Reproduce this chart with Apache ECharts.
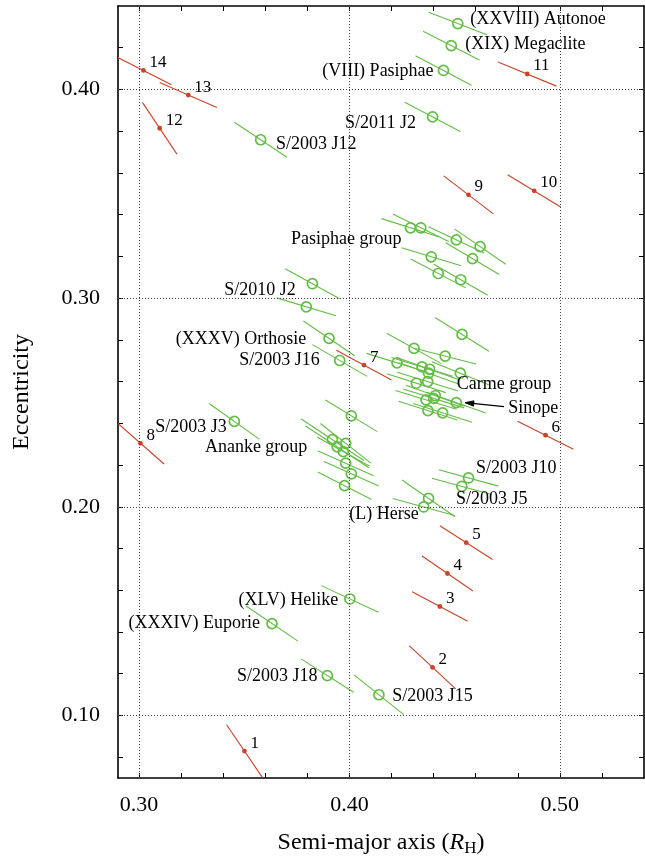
<!DOCTYPE html>
<html>
<head>
<meta charset="utf-8">
<script src="https://cdn.jsdelivr.net/npm/echarts@6/dist/echarts.min.js"></script>
<style>
  html, body { margin: 0; padding: 0; background: #fff; }
  #chart { width: 645px; height: 862px; }
</style>
</head>
<body>
<div id="chart"></div>
<script>
// Irregular Jovian satellites: semi-major axis vs eccentricity.
// Each object is drawn as its mean position with a segment showing its
// range of variation (half-extents in a and e).

// Numbered test orbits (red)
const redNames = ['1', '2', '3', '4', '5', '6', '7', '8', '9', '10', '11', '12', '13', '14'];
const redA  = [0.3501, 0.4395, 0.4430, 0.4466, 0.4555, 0.4932, 0.4069, 0.3007, 0.4566, 0.4878, 0.4845, 0.3098, 0.3234, 0.3021];
const redE  = [0.0829, 0.1230, 0.1522, 0.1680, 0.1828, 0.2343, 0.2679, 0.2304, 0.3495, 0.3514, 0.4074, 0.3814, 0.3973, 0.4091];
const redDA = [0.0085, 0.0110, 0.0132, 0.0121, 0.0125, 0.0133, 0.0131, 0.0112, 0.0118, 0.0126, 0.0139, 0.0082, 0.0136, 0.0133];
const redDE = [0.0126, 0.0103, 0.0071, 0.0084, 0.0081, 0.0067, 0.0071, 0.0099, 0.0091, 0.0077, 0.0058, 0.0124, 0.0060, 0.0068];

// Known retrograde satellites (green)
const greenA = [
  // named / isolated
  0.4515, 0.4484, 0.4447, 0.4395, 0.3578, 0.3824, 0.3795, 0.3903, 0.3954, 0.3453,
  0.4566, 0.4534, 0.4376, 0.4353, 0.4002, 0.3632, 0.3895, 0.4140, 0.4009,
  // Pasiphae group
  0.4290, 0.4339, 0.4508, 0.4621, 0.4389, 0.4585, 0.4422, 0.4529,
  // Carme group
  0.4307, 0.4455, 0.4535, 0.4226, 0.4345, 0.4381, 0.4376, 0.4527, 0.4318, 0.4372,
  0.4408, 0.4400, 0.4364, 0.4508, 0.4373, 0.4443,
  // Ananke group
  0.3919, 0.3942, 0.3982, 0.3971, 0.3982, 0.4009, 0.3977
];
const greenE = [
  0.4316, 0.4210, 0.4091, 0.3869, 0.3759, 0.3069, 0.2958, 0.2807, 0.2701, 0.2409,
  0.2138, 0.2098, 0.2040, 0.1999, 0.1558, 0.1440, 0.1191, 0.1099, 0.2436,
  0.3337, 0.3337, 0.3279, 0.3247, 0.3198, 0.3189, 0.3118, 0.3088,
  0.2759, 0.2722, 0.2826, 0.2690, 0.2670, 0.2659, 0.2640, 0.2640, 0.2592, 0.2600,
  0.2532, 0.2519, 0.2512, 0.2499, 0.2461, 0.2450,
  0.2322, 0.2287, 0.2304, 0.2264, 0.2209, 0.2158, 0.2101
];
const greenDA = [
  0.0138, 0.0134, 0.0133, 0.0132, 0.0125, 0.0129, 0.0141, 0.0122, 0.0130, 0.0120,
  0.0142, 0.0142, 0.0126, 0.0147, 0.0136, 0.0123, 0.0125, 0.0118, 0.0123,
  0.0137, 0.0133, 0.0132, 0.0122, 0.0142, 0.0127, 0.0131, 0.0128,
  0.0130, 0.0147, 0.0128, 0.0145, 0.0145, 0.0140, 0.0140, 0.0135, 0.0140, 0.0145,
  0.0140, 0.0145, 0.0145, 0.0140, 0.0140, 0.0140,
  0.0150, 0.0150, 0.0120, 0.0125, 0.0133, 0.0130, 0.0128
];
const greenDE = [
  0.0054, 0.0069, 0.0071, 0.0070, 0.0084, 0.0072, 0.0043, 0.0083, 0.0076, 0.0086,
  0.0039, 0.0039, 0.0088, 0.0041, 0.0064, 0.0084, 0.0080, 0.0095, 0.0076,
  0.0044, 0.0066, 0.0063, 0.0085, 0.0043, 0.0076, 0.0069, 0.0074,
  0.0073, 0.0038, 0.0081, 0.0045, 0.0045, 0.0050, 0.0050, 0.0055, 0.0045, 0.0045,
  0.0050, 0.0045, 0.0045, 0.0050, 0.0045, 0.0045,
  0.0100, 0.0100, 0.0095, 0.0070, 0.0060, 0.0059, 0.0066
];

// Text annotations, anchored in data units (a, e)
const noteText = [
  '(XXVIII) Autonoe', '(XIX) Megaclite', '(VIII) Pasiphae', 'S/2011 J2', 'S/2003 J12',
  'Pasiphae group', 'S/2010 J2', '(XXXV) Orthosie', 'S/2003 J16', 'Carme group',
  'Sinope', 'S/2003 J3', 'Ananke group', 'S/2003 J10', 'S/2003 J5', '(L) Herse',
  '(XLV) Helike', '(XXXIV) Euporie', 'S/2003 J18', 'S/2003 J15'
];
const noteA = [
  0.4574, 0.4550, 0.4400, 0.4316, 0.3651,
  0.4247, 0.3745, 0.3795, 0.3859, 0.4510,
  0.4755, 0.3417, 0.3800, 0.4602, 0.4506, 0.4329,
  0.3947, 0.3575, 0.3848, 0.4203
];
const noteE = [
  0.4336, 0.4218, 0.4087, 0.3838, 0.3736,
  0.3282, 0.3037, 0.2804, 0.2701, 0.2588,
  0.2474, 0.2382, 0.2283, 0.2185, 0.2038, 0.1964,
  0.1554, 0.1440, 0.1186, 0.1091
];
// Arrow from the "Sinope" label to its marker
const arrowFrom = [0.4735, 0.2480];
const arrowTo = [0.4550, 0.2499];

// Axes
const xMin = 0.29, xMax = 0.54, yMin = 0.07, yMax = 0.44;
const xMajor = [0.30, 0.40, 0.50];
const xMinor = [0.30, 0.32, 0.34, 0.36, 0.38, 0.40, 0.42, 0.44, 0.46, 0.48, 0.50, 0.52];
const yMajor = [0.10, 0.20, 0.30, 0.40];
const yMinor = [0.08, 0.10, 0.12, 0.14, 0.16, 0.18, 0.20, 0.22, 0.24, 0.26, 0.28, 0.30, 0.32, 0.34, 0.36, 0.38, 0.40, 0.42];

const FONT = "'Liberation Serif', 'Times New Roman', serif";
const RED = '#c8432b';
const GREEN = '#63bd45';
const rightAligned = new Set(['(VIII) Pasiphae', 'S/2011 J2', 'Pasiphae group', 'S/2010 J2',
  '(XXXV) Orthosie', 'S/2003 J16', 'S/2003 J3', 'Ananke group', '(L) Herse',
  '(XLV) Helike', '(XXXIV) Euporie', 'S/2003 J18']);

const redData = redA.map((a, i) => [a, redE[i], redDA[i], redDE[i], i]);
const greenData = greenA.map((a, i) => [a, greenE[i], greenDA[i], greenDE[i]]);
const noteData = noteA.map((a, i) => [a, noteE[i], i]);

function segment(api, color) {
  const a = api.value(0), e = api.value(1), da = api.value(2), de = api.value(3);
  const p0 = api.coord([a - da, e + de]);
  const p1 = api.coord([a + da, e - de]);
  return {
    type: 'line',
    shape: { x1: p0[0], y1: p0[1], x2: p1[0], y2: p1[1] },
    style: { stroke: color, lineWidth: 1.1 }
  };
}

function axisCommon(isX, pos, showLabels) {
  return {
    type: 'value',
    position: pos,
    min: isX ? xMin : yMin,
    max: isX ? xMax : yMax,
    axisLine: { show: true, onZero: false, lineStyle: { color: '#000', width: 1.6 } },
    axisTick: {
      show: true, inside: true, length: 5,
      customValues: isX ? xMinor : yMinor,
      lineStyle: { color: '#000', width: 1 }
    },
    axisLabel: {
      show: showLabels,
      customValues: isX ? xMajor : yMajor,
      formatter: v => Number(v).toFixed(2),
      margin: isX ? 16 : 18,
      color: '#000', fontSize: 22, fontFamily: FONT
    },
    splitLine: { show: false },
    minorTick: { show: false }
  };
}

const chart = echarts.init(document.getElementById('chart'), null, { renderer: 'canvas' });

const xBottom = Object.assign(axisCommon(true, 'bottom', true), {
  name: 'Semi-major axis ({i|R}{sub|H})',
  nameLocation: 'middle',
  nameGap: 50,
  nameTextStyle: {
    color: '#000', fontSize: 24, fontFamily: FONT,
    rich: {
      i: { fontStyle: 'italic', fontSize: 24, fontFamily: FONT, color: '#000' },
      sub: { fontSize: 17, fontFamily: FONT, color: '#000', padding: [12, 0, 0, 0] }
    }
  }
});
const yLeft = Object.assign(axisCommon(false, 'left', true), {
  name: 'Eccentricity',
  nameLocation: 'middle',
  nameGap: 84,
  nameRotate: 90,
  nameTextStyle: { color: '#000', fontSize: 24, fontFamily: FONT }
});

chart.setOption({
  animation: false,
  backgroundColor: '#fff',
  grid: { left: 118, right: 1, top: 6, bottom: 73, containLabel: false },
  xAxis: [xBottom, axisCommon(true, 'top', false)],
  yAxis: [yLeft, axisCommon(false, 'right', false)],
  series: [
    {
      // dotted grid at the labelled ticks
      type: 'scatter',
      data: [],
      z: 1,
      silent: true,
      markLine: {
        silent: true,
        symbol: 'none',
        label: { show: false },
        lineStyle: { type: [1, 2], color: '#444', width: 1 },
        data: xMajor.map(v => ({ xAxis: v })).concat(yMajor.map(v => ({ yAxis: v })))
      }
    },
    {
      type: 'custom',
      name: 'satellites',
      clip: true,
      z: 3,
      data: greenData,
      renderItem: (params, api) => {
        const c = api.coord([api.value(0), api.value(1)]);
        return {
          type: 'group',
          children: [
            segment(api, GREEN),
            { type: 'circle', shape: { cx: c[0], cy: c[1], r: 5 },
              style: { fill: 'none', stroke: GREEN, lineWidth: 1.7 } }
          ]
        };
      }
    },
    {
      type: 'custom',
      name: 'test orbits',
      clip: true,
      z: 4,
      data: redData,
      renderItem: (params, api) => {
        const c = api.coord([api.value(0), api.value(1)]);
        return {
          type: 'group',
          children: [
            segment(api, RED),
            { type: 'circle', shape: { cx: c[0], cy: c[1], r: 2.4 },
              style: { fill: RED } },
            { type: 'text', x: c[0] + 6, y: c[1] - 8,
              style: { text: redNames[api.value(4)], fontSize: 17, fontFamily: FONT,
                       fill: '#000', align: 'left', verticalAlign: 'middle' } }
          ]
        };
      }
    },
    {
      type: 'custom',
      name: 'notes',
      z: 5,
      data: noteData,
      renderItem: (params, api) => {
        const c = api.coord([api.value(0), api.value(1)]);
        const t = noteText[api.value(2)];
        return {
          type: 'text', x: c[0], y: c[1],
          style: { text: t, fontSize: 18, fontFamily: FONT, fill: '#000',
                   align: rightAligned.has(t) ? 'right' : 'left', verticalAlign: 'middle' }
        };
      }
    },
    {
      type: 'custom',
      name: 'arrow',
      z: 5,
      data: [[arrowFrom[0], arrowFrom[1], arrowTo[0], arrowTo[1]]],
      renderItem: (params, api) => {
        const p0 = api.coord([api.value(0), api.value(1)]);
        const p1 = api.coord([api.value(2), api.value(3)]);
        const ang = Math.atan2(p0[1] - p1[1], p0[0] - p1[0]);
        const L = 9, w = 0.3;
        const h1 = [p1[0] + L * Math.cos(ang + w), p1[1] + L * Math.sin(ang + w)];
        const h2 = [p1[0] + L * Math.cos(ang - w), p1[1] + L * Math.sin(ang - w)];
        return {
          type: 'group',
          children: [
            { type: 'line', shape: { x1: p0[0], y1: p0[1], x2: p1[0], y2: p1[1] },
              style: { stroke: '#000', lineWidth: 1.1 } },
            { type: 'polygon', shape: { points: [h1, p1, h2] },
              style: { fill: '#000', stroke: '#000', lineWidth: 1 } }
          ]
        };
      }
    }
  ]
});
</script>
</body>
</html>
